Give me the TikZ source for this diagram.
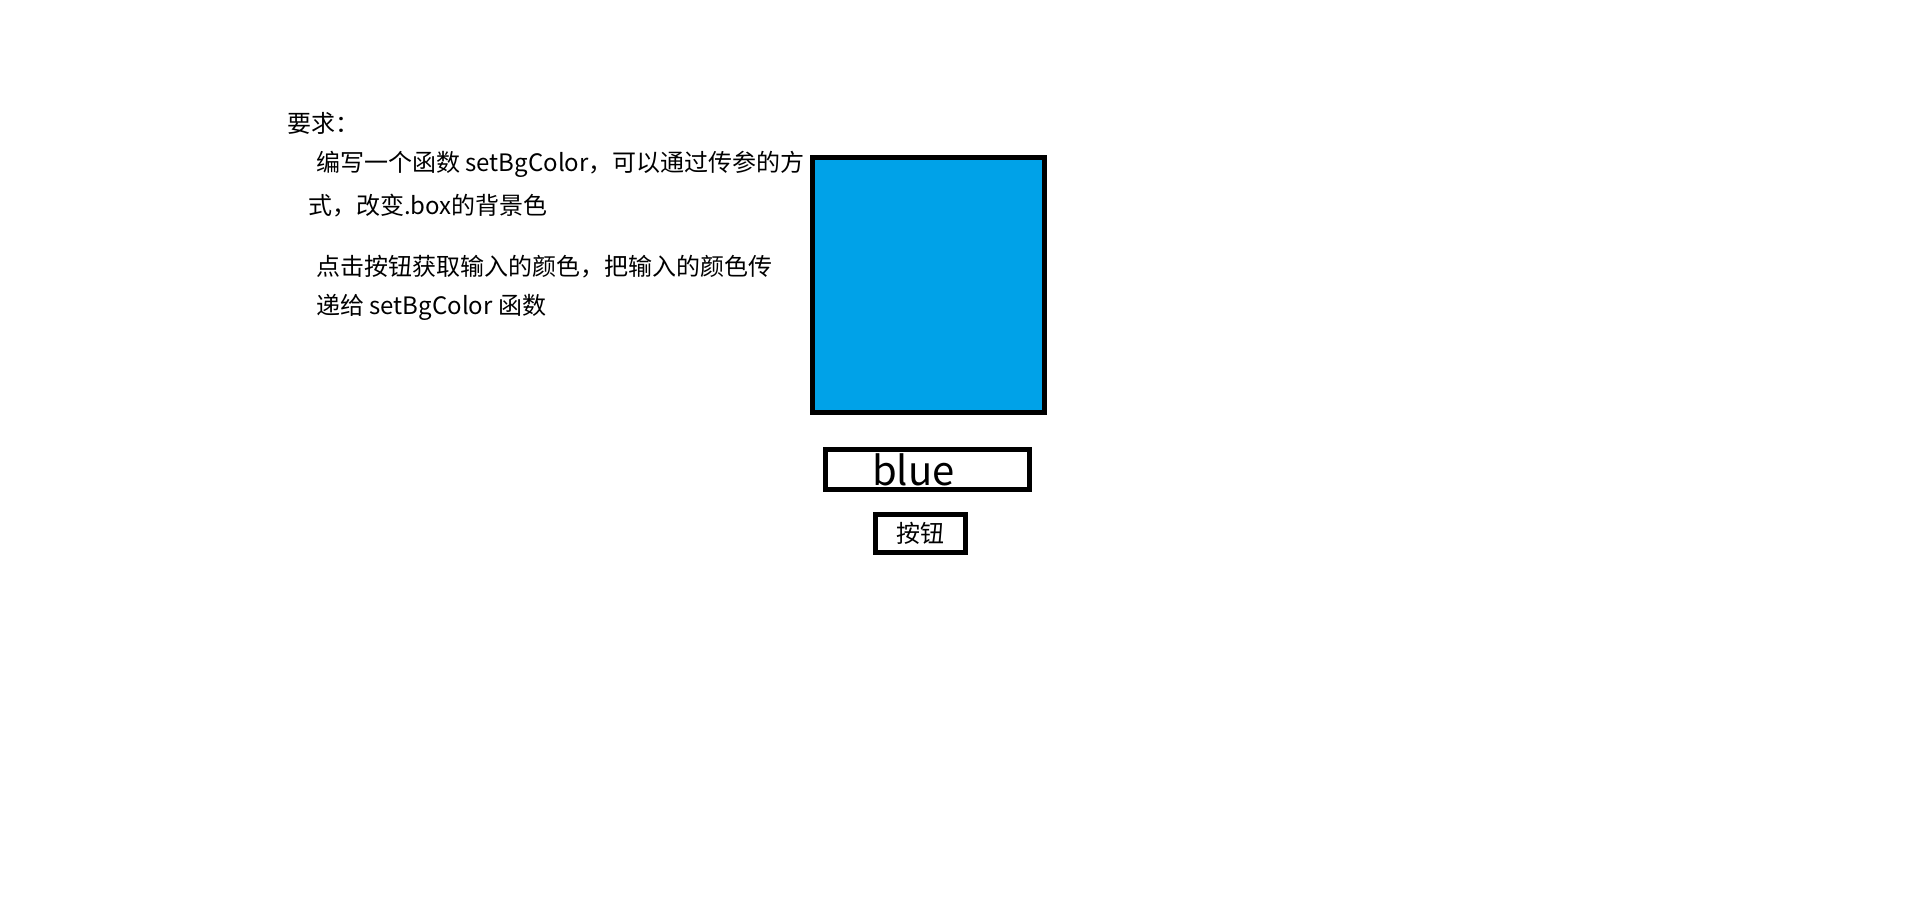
\documentclass[tikz,border=0pt]{standalone}
\usepackage{fontspec}
\usepackage{xcolor}
\usetikzlibrary{positioning}
\newfontfamily\cjk{Noto Sans CJK SC}
\definecolor{boxblue}{RGB}{0, 162, 232}

\begin{document}
\begin{tikzpicture}[x=1pt, y=-1pt,
    para/.style={anchor=west, inner sep=0pt, font=\cjk\fontsize{24}{29}\selectfont},
    frame/.style={draw=black, line width=5pt, inner sep=0pt}]
    \useasboundingbox (0,0) rectangle (1914,916);
    % requirement text
    \node[para] (title) at (287,123) {要求：};
    \node[para] (req1a) at (316,164) {编写一个函数 setBgColor，可以通过传参的方};
    \node[para] (req1b) at (308,206) {式，改变.box的背景色};
    \node[para] (req2a) at (316,267) {点击按钮获取输入的颜色，把输入的颜色传};
    \node[para] (req2b) at (316,307) {递给 setBgColor 函数};
    % the .box, the input and the button
    \node[frame, fill=boxblue, minimum width=232pt, minimum height=255pt] (box) at (928.5,285) {};
    \node[frame, minimum width=204pt, minimum height=40pt] (input) at (927.5,469.5) {};
    \node[right=49pt of input.west, inner sep=0pt, font=\cjk\fontsize{40}{48}\selectfont] (inputval) {blue};
    \node[frame, minimum width=90pt, minimum height=38pt,
          font=\cjk\fontsize{24}{28}\selectfont] (btn) at (920.5,533.5) {按钮\hspace{5pt}};
\end{tikzpicture}
\end{document}
